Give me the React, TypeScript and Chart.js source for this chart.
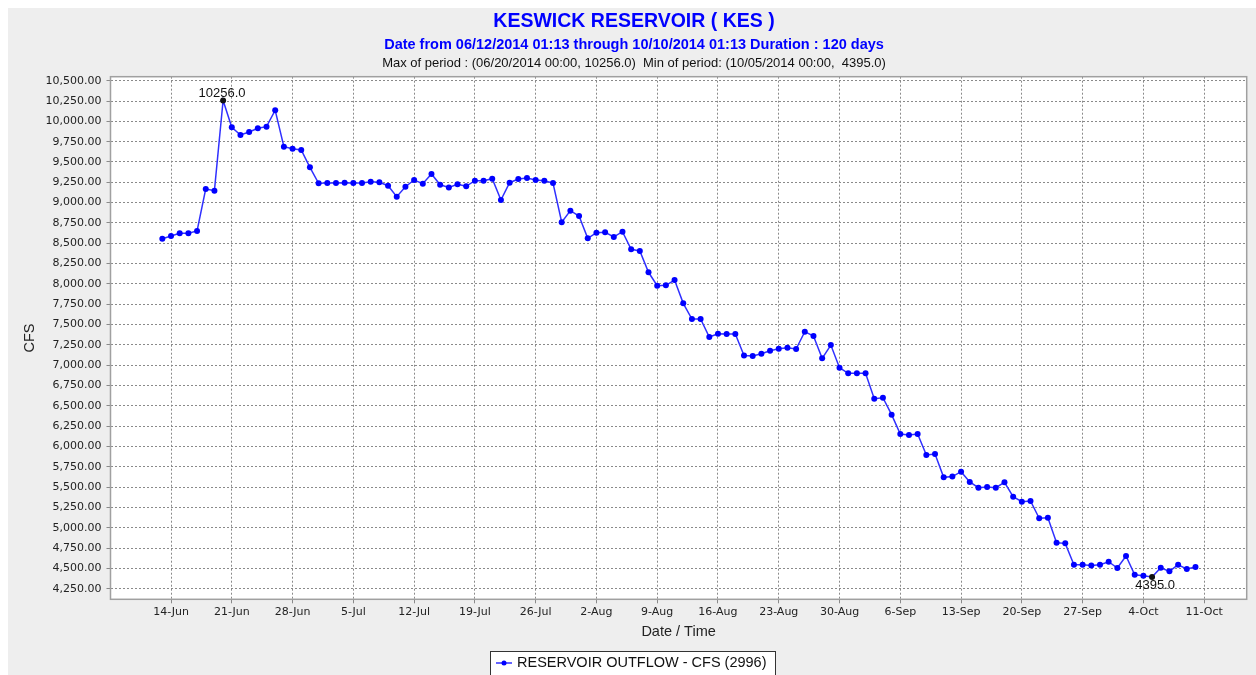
import { useEffect, useRef } from "react";
import { Chart, registerables } from "chart.js";

Chart.register(...registerables);

const titleText = "KESWICK RESERVOIR ( KES )";
const subtitleText = "Date from 06/12/2014 01:13 through 10/10/2014 01:13 Duration : 120 days";
const statsText = "Max of period : (06/20/2014 00:00, 10256.0)  Min of period: (10/05/2014 00:00,  4395.0)";
const seriesLabel = "RESERVOIR OUTFLOW - CFS (2996)";
const xTitle = "Date / Time";
const yTitle = "CFS";

// first value is 13-Jun (day offset -1 from 14-Jun), one value per day
const firstDayOffset = -1;
const outflow = [
  8556, 8589, 8622, 8622, 8651, 9168, 9147, 10256, 9927, 9832,
  9869, 9914, 9934, 10136, 9688, 9663, 9647, 9434, 9237, 9241,
  9240, 9245, 9240, 9240, 9258, 9250, 9208, 9073, 9196, 9278,
  9233, 9352, 9219, 9186, 9225, 9201, 9270, 9270, 9294, 9032,
  9245, 9291, 9303, 9278, 9270, 9241, 8758, 8901, 8835, 8561,
  8630, 8634, 8577, 8642, 8426, 8405, 8143, 7978, 7983, 8048,
  7761, 7568, 7568, 7347, 7387, 7383, 7383, 7120, 7113, 7141,
  7178, 7203, 7215, 7199, 7412, 7359, 7084, 7248, 6969, 6900,
  6900, 6900, 6588, 6600, 6391, 6153, 6141, 6153, 5895, 5907,
  5620, 5630, 5690, 5563, 5493, 5500, 5493, 5559, 5382, 5320,
  5330, 5116, 5124, 4816, 4808, 4545, 4545, 4537, 4545, 4582,
  4505, 4652, 4422, 4410, 4395, 4508, 4464, 4545, 4492, 4517,
];

const xTickDays = [0, 7, 14, 21, 28, 35, 42, 49, 56, 63, 70, 77, 84, 91, 98, 105, 112, 119];
const xTickLabels = [
  "14-Jun", "21-Jun", "28-Jun", "5-Jul", "12-Jul", "19-Jul", "26-Jul", "2-Aug", "9-Aug",
  "16-Aug", "23-Aug", "30-Aug", "6-Sep", "13-Sep", "20-Sep", "27-Sep", "4-Oct", "11-Oct",
];
const yTickValues = [
  4250, 4500, 4750, 5000, 5250, 5500, 5750, 6000, 6250, 6500, 6750, 7000, 7250,
  7500, 7750, 8000, 8250, 8500, 8750, 9000, 9250, 9500, 9750, 10000, 10250, 10500,
];
const xMin = -6.97;
const xMax = 123.9;
const yMin = 4120;
const yMax = 10549;

const SANS = "'Liberation Sans', Arial, sans-serif";
const TICKFONT = "'DejaVu Sans', sans-serif";

export default function App() {
  const ref = useRef<HTMLCanvasElement | null>(null);

  useEffect(() => {
    const canvas = ref.current;
    if (!canvas) return;
    const points = outflow.map((v, i) => ({ x: i + firstDayOffset, y: v }));
    const maxVal = Math.max(...outflow);
    const minVal = Math.min(...outflow);
    const maxIdx = outflow.indexOf(maxVal);
    const minIdx = outflow.indexOf(minVal);
    const pointColors = outflow.map((_, i) => (i === maxIdx || i === minIdx ? "#111111" : "#0000ff"));

    const decor = {
      id: "decor",
      beforeDraw(chart: any) {
        const { ctx, chartArea: a } = chart;
        ctx.save();
        ctx.fillStyle = "#ffffff";
        ctx.fillRect(a.left, a.top, a.right - a.left, a.bottom - a.top);
        ctx.restore();
      },
      afterDraw(chart: any) {
        const { ctx, chartArea: a, width } = chart;
        ctx.save();
        // plot border
        ctx.strokeStyle = "#a0a0a0";
        ctx.lineWidth = 1.5;
        ctx.strokeRect(a.left, a.top, a.right - a.left, a.bottom - a.top);

        // titles
        ctx.textAlign = "center";
        ctx.textBaseline = "middle";
        const cx = width / 2 + 2;
        ctx.fillStyle = "#0000ff";
        ctx.font = `bold 19.5px ${SANS}`;
        ctx.fillText(titleText, cx, 14);
        ctx.font = `bold 14.5px ${SANS}`;
        ctx.fillText(subtitleText, cx, 37);
        ctx.fillStyle = "#111111";
        ctx.font = `13px ${SANS}`;
        ctx.fillText(statsText, cx, 55);

        // max / min annotations
        const meta = chart.getDatasetMeta(0);
        const pMax = meta.data[maxIdx];
        const pMin = meta.data[minIdx];
        ctx.font = `13px ${SANS}`;
        ctx.fillStyle = "#111111";
        if (pMax) ctx.fillText(maxVal.toFixed(1), pMax.x - 1, pMax.y - 7);
        if (pMin) ctx.fillText(minVal.toFixed(1), pMin.x + 3, pMin.y + 8);

        // legend
        const lx = 482;
        const ly = 643;
        ctx.fillStyle = "#ffffff";
        ctx.fillRect(lx, ly, 285, 30);
        ctx.strokeStyle = "#333333";
        ctx.lineWidth = 1;
        ctx.strokeRect(lx + 0.5, ly + 0.5, 285, 30);
        ctx.strokeStyle = "#3030ff";
        ctx.lineWidth = 1.5;
        ctx.beginPath();
        ctx.moveTo(lx + 6, ly + 12);
        ctx.lineTo(lx + 22, ly + 12);
        ctx.stroke();
        ctx.fillStyle = "#0000ff";
        ctx.beginPath();
        ctx.arc(lx + 14, ly + 12, 2.5, 0, Math.PI * 2);
        ctx.fill();
        ctx.fillStyle = "#111111";
        ctx.textAlign = "left";
        ctx.font = `14.5px ${SANS}`;
        ctx.fillText(seriesLabel, lx + 27, ly + 12);
        ctx.restore();
      },
    };

    const gridOpts = {
      color: "#8a8a8a",
      lineWidth: 1,
      tickLength: 4,
      tickColor: "#8a8a8a",
      tickBorderDash: [],
    };

    const chart = new Chart(canvas, {
      type: "line",
      data: {
        datasets: [
          {
            label: seriesLabel,
            data: points,
            borderColor: "#3030ff",
            borderWidth: 1.5,
            pointRadius: 3,
            pointBorderWidth: 0,
            pointBackgroundColor: pointColors,
            pointBorderColor: pointColors,
            tension: 0,
          },
        ],
      },
      options: {
        animation: false,
        responsive: true,
        maintainAspectRatio: false,
        layout: { padding: { top: 68.7, right: 9.3, left: 0, bottom: 30.7 } },
        plugins: {
          legend: { display: false },
          title: { display: false },
          tooltip: { enabled: false },
        },
        scales: {
          x: {
            type: "linear",
            min: xMin,
            max: xMax,
            afterBuildTicks: (scale: any) => {
              scale.ticks = xTickDays.map((v) => ({ value: v }));
            },
            afterFit: (scale: any) => {
              scale.height = 45;
            },
            ticks: {
              autoSkip: false,
              maxRotation: 0,
              padding: 2,
              color: "#222222",
              font: { family: TICKFONT, size: 11 },
              callback: (value: any) => {
                const i = xTickDays.indexOf(Number(value));
                return i >= 0 ? xTickLabels[i] : "";
              },
            },
            grid: gridOpts,
            border: { display: false, dash: [2, 2] },
            title: {
              display: true,
              text: xTitle,
              color: "#222222",
              font: { family: SANS, size: 14.5 },
              padding: { top: 0, bottom: 4 },
            },
          },
          y: {
            type: "linear",
            min: yMin,
            max: yMax,
            afterBuildTicks: (scale: any) => {
              scale.ticks = yTickValues.map((v) => ({ value: v }));
            },
            afterFit: (scale: any) => {
              scale.width = 102.5;
            },
            ticks: {
              autoSkip: false,
              padding: 5,
              color: "#222222",
              font: { family: TICKFONT, size: 11 },
              callback: (value: any) =>
                Number(value).toLocaleString("en-US", { minimumFractionDigits: 2, maximumFractionDigits: 2 }),
            },
            grid: gridOpts,
            border: { display: false, dash: [2, 2] },
            title: {
              display: true,
              text: yTitle,
              color: "#222222",
              font: { family: SANS, size: 14.5 },
              padding: { top: 13.6, bottom: 0 },
            },
          },
        },
      } as any,
      plugins: [decor],
    });
    return () => chart.destroy();
  }, []);

  return (
    <div
      style={{
        position: "fixed",
        left: 8,
        top: 8,
        width: 1248,
        height: 667,
        background: "#eeeeee",
      }}
    >
      <canvas ref={ref} />
    </div>
  );
}
